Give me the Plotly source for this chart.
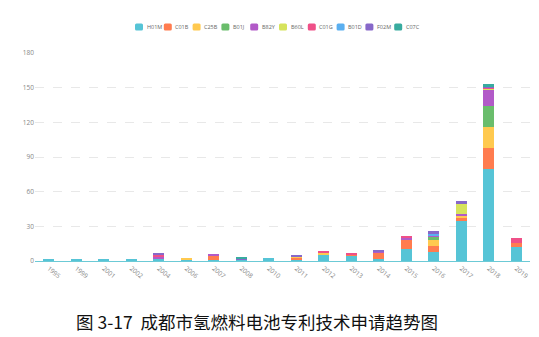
import plotly.graph_objects as go

years = ["1995", "1999", "2001", "2002", "2004", "2006", "2007", "2008", "2010",
         "2011", "2012", "2013", "2014", "2015", "2016", "2017", "2018", "2019"]

codes = ["H01M", "C01B", "C25B", "B01J", "B82Y", "B60L", "C01G", "B01D", "F02M", "C07C"]

H01M = [1, 1, 1, 1, 2, 1, 1, 1, 3, 1, 6, 5, 2, 10, 8, 35, 80, 12]
C01B = [0, 0, 0, 0, 0, 0, 4, 0, 0, 2, 0, 1, 5, 8, 5, 3, 18, 4]
C25B = [0, 0, 0, 0, 0, 2, 0, 0, 0, 1, 1, 0, 0, 0, 5, 1, 18, 0]
B01J = [0, 0, 0, 0, 0, 0, 0, 0, 0, 0, 0, 0, 0, 0, 3, 0, 18, 0]
B82Y = [0, 0, 0, 0, 2, 0, 1, 0, 0, 0, 0, 0, 1, 2, 1, 2, 14, 0]
B60L = [0, 0, 0, 0, 0, 0, 0, 0, 0, 0, 0, 0, 0, 0, 0, 8, 1, 0]
C01G = [0, 0, 0, 0, 1, 0, 0, 0, 0, 0, 1, 1, 0, 1, 0, 0, 1, 4]
B01D = [0, 0, 0, 0, 0, 0, 0, 0, 0, 0, 0, 0, 0, 0, 1, 0, 0, 0]
F02M = [0, 0, 0, 0, 2, 0, 0, 1, 0, 1, 0, 0, 1, 0, 3, 3, 1, 0]
C07C = [0, 0, 0, 0, 0, 0, 0, 1, 0, 0, 0, 0, 0, 0, 0, 0, 2, 0]

series = [H01M, C01B, C25B, B01J, B82Y, B60L, C01G, B01D, F02M, C07C]
colors = ["#56c4d6", "#ff7c4f", "#ffc94f", "#6abd6c", "#b25ac8",
          "#d6e35c", "#ef5088", "#5aaff0", "#8768c9", "#38ab9f"]

title_text = "图 3-17  成都市氢燃料电池专利技术申请趋势图"

W, H = 539, 337
ML, MR, MT, MB = 35, 9, 53, 76
PW, PH = W - ML - MR, H - MT - MB


def px(v):
    # pixel column -> paper x (paper spans the plot area)
    return (v - ML) / PW


def py(v):
    # pixel row -> paper y
    return (H - MB - v) / PH


fig = go.Figure()
for name, vals, col in zip(codes, series, colors):
    fig.add_trace(go.Bar(x=years, y=vals, name=name, marker_color=col,
                         marker_line_width=0, showlegend=False))

# Compact legend row drawn with rounded swatches and labels
shapes = []
annotations = []
lx0 = 135
step = 28.8
ly = 27
for i, (name, col) in enumerate(zip(codes, colors)):
    x0 = lx0 + i * step
    x1 = x0 + 8
    y0, y1 = ly - 3.5, ly + 3.5
    r = 1.5
    path = (f"M {px(x0+r)},{py(y0)} L {px(x1-r)},{py(y0)} Q {px(x1)},{py(y0)} {px(x1)},{py(y0+r)} "
            f"L {px(x1)},{py(y1-r)} Q {px(x1)},{py(y1)} {px(x1-r)},{py(y1)} "
            f"L {px(x0+r)},{py(y1)} Q {px(x0)},{py(y1)} {px(x0)},{py(y1-r)} "
            f"L {px(x0)},{py(y0+r)} Q {px(x0)},{py(y0)} {px(x0+r)},{py(y0)} Z")
    shapes.append(dict(type="path", xref="paper", yref="paper", path=path,
                       fillcolor=col, line=dict(width=0)))
    annotations.append(dict(x=px(x1 + 1.5), y=py(ly), xref="paper", yref="paper",
                            text=name, showarrow=False, xanchor="left", yanchor="middle",
                            font=dict(size=5.5, color="#666", family="Open Sans")))

annotations.append(dict(x=px(257), y=py(321), xref="paper", yref="paper",
                        text=title_text, showarrow=False, xanchor="center", yanchor="middle",
                        font=dict(size=17.5, color="#111", family="Noto Sans CJK SC")))

fig.update_layout(
    width=W, height=H,
    barmode="stack", bargap=0.6,
    paper_bgcolor="white", plot_bgcolor="white",
    margin=dict(l=ML, r=MR, t=MT, b=MB),
    xaxis=dict(type="category", tickangle=40, showgrid=False, ticks="",
               showline=True, linecolor="#6ccad6", linewidth=1.2,
               tickfont=dict(size=6.5, color="#888", family="Open Sans")),
    yaxis=dict(range=[0, 180], dtick=30, showgrid=True, gridcolor="#e8e8e8",
               griddash="dash", gridwidth=1, zeroline=False, showline=False,
               ticks="", tickfont=dict(size=6.5, color="#888", family="Open Sans")),
    shapes=shapes, annotations=annotations,
    font=dict(family="Open Sans"),
)

fig.write_html("out.html")
